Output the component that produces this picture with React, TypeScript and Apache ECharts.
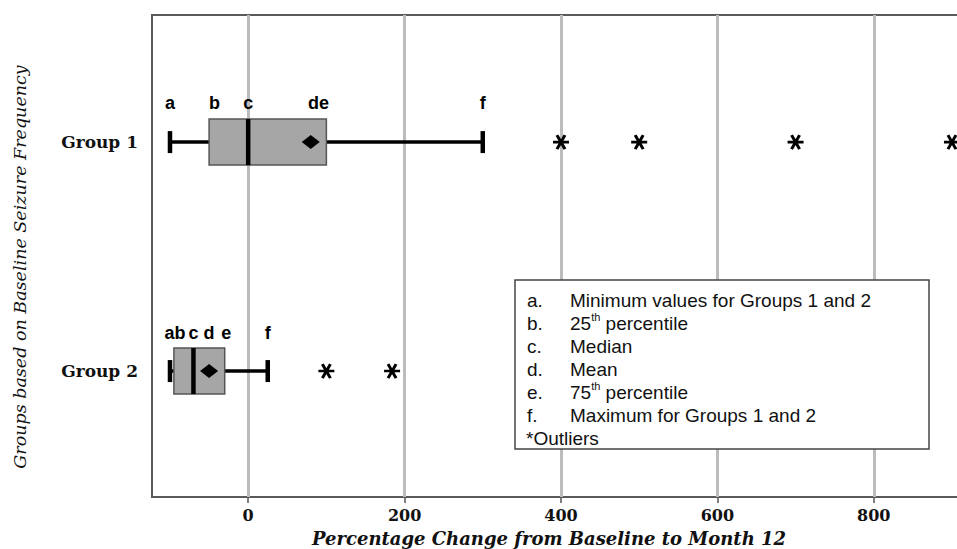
import React, { useEffect, useRef } from "react";
import * as echarts from "echarts";

const groups = ["Group 1", "Group 2"];
const mins = [-100, -100];
const q1s = [-50, -95];
const medians = [0, -70];
const means = [80, -50];
const q3s = [100, -30];
const maxs = [300, 25];
const outliersG1 = [400, 500, 700, 900];
const outliersG2 = [100, 184];
const xTicks = [0, 200, 400, 600, 800];
const lettersG1 = ["a", "b", "c", "de", "f"];
const lettersG2 = ["ab", "c", "d", "e", "f"];
const legendKeys = ["a.", "b.", "c.", "d.", "e.", "f."];
const legendTexts = [
  "Minimum values for Groups 1 and 2",
  "{n|25}{s|th}{n| percentile}",
  "Median",
  "Mean",
  "{n|75}{s|th}{n| percentile}",
  "Maximum for Groups 1 and 2",
];
const legendFooter = "*Outliers";
const yTitle = "Groups based on Baseline Seizure Frequency";
const xTitle = "Percentage Change from Baseline to Month 12";

const SERIF = "DejaVu Serif";
const SANS = "Liberation Sans";
const ASTERISK = "path://M0 7L16 7M4 0L12 14M12 0L4 14";

export default function App() {
  const ref = useRef<HTMLDivElement>(null);
  useEffect(() => {
    document.body.style.margin = "0";
    const chart = echarts.init(ref.current!, null, { renderer: "svg" });

    const boxData = groups.map((g, i) => [i + 1, mins[i], q1s[i], medians[i], q3s[i], maxs[i]]);
    const meanData = groups.map((g, i) => [means[i], i + 1]);
    const outlierData = [
      ...outliersG1.map((v) => [v, 1]),
      ...outliersG2.map((v) => [v, 2]),
    ];
    const letterX1 = [mins[0], q1s[0] + 7, medians[0], (means[0] + q3s[0]) / 2, maxs[0]];
    const letterX2 = [(mins[1] + q1s[1]) / 2 + 4, medians[1], means[1], q3s[1] + 2, maxs[1]];
    const letterData = [
      ...lettersG1.map((l, k) => ({ name: l, value: [letterX1[k], 1 - 0.17] })),
      ...lettersG2.map((l, k) => ({ name: l, value: [letterX2[k], 2 - 0.166] })),
    ];

    const legendLeft = 515;
    const legendTop = 280;
    const lineH = 23;
    const legendGraphics: any[] = [
      {
        type: "rect",
        shape: { x: legendLeft, y: legendTop, width: 414, height: 169 },
        style: { fill: "#fff", stroke: "#444", lineWidth: 1.5 },
        z: 50,
      },
    ];
    legendKeys.forEach((k, i) => {
      const cy = legendTop + 20 + i * lineH;
      legendGraphics.push({
        type: "text",
        x: 527,
        y: cy,
        z: 51,
        style: { text: k, fontFamily: SANS, fontSize: 19, fill: "#111", align: "left", verticalAlign: "middle" },
      });
      legendGraphics.push({
        type: "text",
        x: 570,
        y: cy,
        z: 51,
        style: {
          text: legendTexts[i],
          fontFamily: SANS,
          fontSize: 19,
          fill: "#111",
          align: "left",
          verticalAlign: "middle",
          rich: {
            n: { fontFamily: SANS, fontSize: 19, lineHeight: 23, fill: "#111" },
            s: { fontFamily: SANS, fontSize: 11, lineHeight: 14, fill: "#111", verticalAlign: "top" },
          },
        },
      });
    });
    legendGraphics.push({
      type: "text",
      x: 526,
      y: legendTop + 20 + 6 * lineH,
      z: 51,
      style: { text: legendFooter, fontFamily: SANS, fontSize: 19, fill: "#111", align: "left", verticalAlign: "middle" },
    });
    legendGraphics.push({
      type: "text",
      x: 20,
      y: 267,
      rotation: Math.PI / 2,
      z: 51,
      style: {
        text: yTitle,
        fontFamily: SERIF,
        fontStyle: "italic",
        fontSize: 17.5,
        fill: "#111",
        align: "center",
        verticalAlign: "middle",
      },
    });
    legendGraphics.push({
      type: "text",
      x: 549,
      y: 538,
      z: 51,
      style: {
        text: xTitle,
        fontFamily: SERIF,
        fontStyle: "italic",
        fontWeight: "bold",
        fontSize: 18,
        fill: "#111",
        align: "center",
        verticalAlign: "middle",
      },
    });

    chart.setOption({
      animation: false,
      backgroundColor: "#fff",
      grid: {
        left: 152,
        top: 15,
        right: -2,
        bottom: 52,
        containLabel: false,
        outerBoundsMode: "none",
        show: true,
        borderColor: "#5a5a5a",
        borderWidth: 2,
        backgroundColor: "transparent",
      },
      xAxis: {
        type: "value",
        min: -123,
        max: 909,
        axisLine: { show: false },
        splitLine: { show: false },
        axisTick: { show: true, customValues: xTicks, length: 6, lineStyle: { color: "#555", width: 1.5 } },
        axisLabel: {
          customValues: xTicks,
          fontFamily: SERIF,
          fontWeight: "bold",
          fontSize: 16,
          color: "#111",
          margin: 10,
        },
      },
      yAxis: {
        type: "value",
        inverse: true,
        min: 0.445,
        max: 2.55,
        axisLine: { show: false },
        splitLine: { show: false },
        axisTick: { show: true, customValues: [1, 2], length: 8, lineStyle: { color: "#555", width: 1.5 } },
        axisLabel: {
          customValues: [1, 2],
          formatter: (v: number) => groups[Math.round(v) - 1] ?? "",
          fontFamily: SERIF,
          fontWeight: "bold",
          fontSize: 17,
          color: "#111",
          margin: 14,
        },
      },
      graphic: legendGraphics,
      series: [
        {
          type: "scatter",
          data: [],
          silent: true,
          z: 1,
          markLine: {
            silent: true,
            z: 1,
            symbol: ["none", "none"],
            label: { show: false },
            lineStyle: { color: "#bcbcbc", width: 3, type: "solid" },
            data: xTicks.map((t) => ({ xAxis: t })),
          },
        },
        {
          type: "custom",
          z: 3,
          data: boxData,
          encode: { x: [1, 2, 3, 4, 5], y: 0 },
          renderItem: (params: any, api: any) => {
            const y = api.value(0);
            const pMin = api.coord([api.value(1), y]);
            const pQ1 = api.coord([api.value(2), y]);
            const pMed = api.coord([api.value(3), y]);
            const pQ3 = api.coord([api.value(4), y]);
            const pMax = api.coord([api.value(5), y]);
            const cy = pMin[1];
            const bh = 23;
            const cap = 11;
            const black = { stroke: "#000", lineWidth: 3.5 };
            return {
              type: "group",
              children: [
                { type: "line", shape: { x1: pMin[0], y1: cy, x2: pQ1[0], y2: cy }, style: black },
                { type: "line", shape: { x1: pQ3[0], y1: cy, x2: pMax[0], y2: cy }, style: black },
                { type: "line", shape: { x1: pMin[0], y1: cy - cap, x2: pMin[0], y2: cy + cap }, style: { stroke: "#000", lineWidth: 4.5 } },
                { type: "line", shape: { x1: pMax[0], y1: cy - cap, x2: pMax[0], y2: cy + cap }, style: { stroke: "#000", lineWidth: 4.5 } },
                {
                  type: "rect",
                  shape: { x: pQ1[0], y: cy - bh, width: pQ3[0] - pQ1[0], height: 2 * bh },
                  style: { fill: "#a6a6a6", stroke: "#555", lineWidth: 1.5 },
                },
                { type: "line", shape: { x1: pMed[0], y1: cy - bh, x2: pMed[0], y2: cy + bh }, style: { stroke: "#000", lineWidth: 4.5 } },
              ],
            };
          },
        },
        {
          type: "scatter",
          z: 4,
          data: meanData,
          symbol: "diamond",
          symbolSize: [18, 14],
          itemStyle: { color: "#000", opacity: 1 },
        },
        {
          type: "scatter",
          z: 4,
          data: outlierData,
          symbol: ASTERISK,
          symbolSize: [16, 14],
          itemStyle: { color: "rgba(0,0,0,0)", borderColor: "#000", borderWidth: 2.8, opacity: 1 },
        },
        {
          type: "scatter",
          z: 4,
          data: letterData,
          symbolSize: 0,
          itemStyle: { opacity: 1 },
          label: {
            show: true,
            position: "inside",
            formatter: (p: any) => p.name,
            fontFamily: SANS,
            fontWeight: "bold",
            fontSize: 18,
            color: "#000",
            opacity: 1,
          },
        },
      ],
    });
    return () => chart.dispose();
  }, []);
  return <div ref={ref} style={{ position: "fixed", left: 0, top: 0, width: 957, height: 549 }} />;
}
